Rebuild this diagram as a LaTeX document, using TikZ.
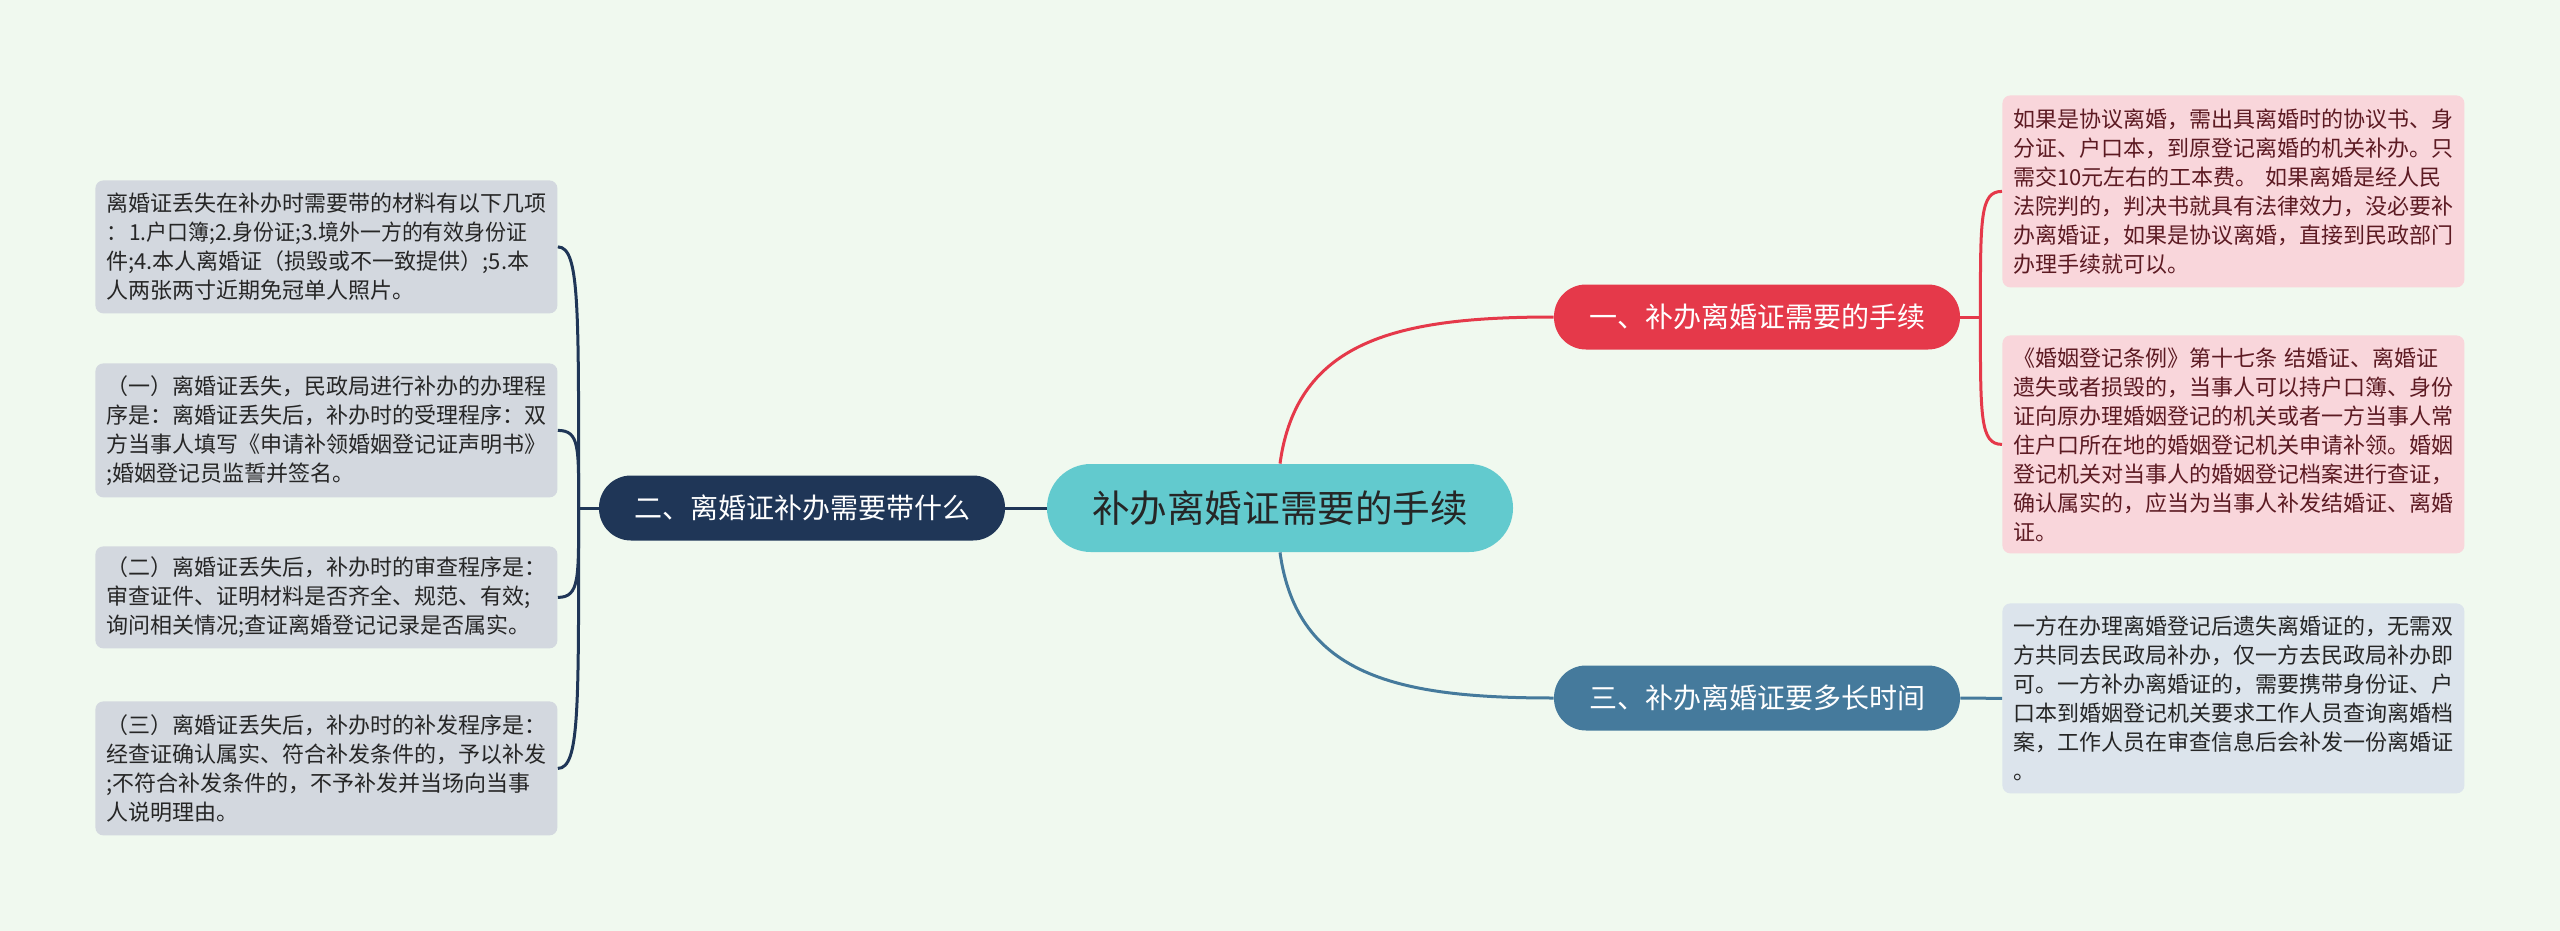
\documentclass[tikz,border=0pt]{standalone}
\usepackage{fontspec}
\setmainfont{Noto Sans CJK SC}
\usepackage{graphicx}
\usepackage{tikz}
\usetikzlibrary{calc}
\usepackage{xcolor}
\definecolor{bgmint}{HTML}{F0F9EF}
\definecolor{topicteal}{HTML}{62CACE}
\definecolor{mapnavy}{HTML}{1F3657}
\definecolor{mapred}{HTML}{E5394A}
\definecolor{mapblue}{HTML}{457A9C}
\definecolor{leafgray}{HTML}{D3D8DF}
\definecolor{leafpink}{HTML}{F9D6DB}
\definecolor{leafblue}{HTML}{DCE4EC}
\definecolor{pinktext}{HTML}{5C1A22}
\definecolor{leaftext}{HTML}{262626}

\begin{document}
\begin{tikzpicture}[
  x=0.5pt, y=-0.5pt,
  topic/.style={fill=topicteal, rounded corners=21.9pt, minimum width=233pt, minimum height=44pt, font=\fontsize{18.8}{22}\selectfont, text=leaftext},
  branch/.style={rounded corners=16pt, minimum width=203pt, minimum height=32.5pt, font=\fontsize{14}{17}\selectfont, text=white},
  leaf/.style={anchor=north west, rounded corners=4pt, text width=220pt, inner xsep=5.5pt, inner ysep=0pt, align=left, font=\fontsize{11}{14.5}\selectfont, text=leaftext},
  link/.style={line width=1.5pt}
]
\fill[bgmint] (0,0) rectangle (2560,931);
\useasboundingbox (0,0) rectangle (2560,931);

% centre and main branches
\node[topic] (main) at (1280,508) {补办离婚证需要的手续};
\node[branch, fill=mapnavy] (need) at (802,508) {二、离婚证补办需要带什么};
\node[branch, fill=mapred] (steps) at (1757,317) {一、补办离婚证需要的手续};
\node[branch, fill=mapblue] (time) at (1757,698) {三、补办离婚证要多长时间};

% left leaves
\node[leaf, fill=leafgray, minimum height=66.5pt] (need1) at (95,180) {离婚证丢失在补办时需要带的材料有以下几项\\\scalebox{0.95}[1]{：\kern1pt 1.户口簿;2.身份证;3.境外一方的有效身份证}\\件;4.本人离婚证（损毁或不一致提供）;5.本\\人两张两寸近期免冠单人照片。};
\node[leaf, fill=leafgray, minimum height=67pt] (need2) at (95,363) {（一）离婚证丢失，民政局进行补办的办理程\\序是：离婚证丢失后，补办时的受理程序：双\\方当事人填写《申请补领婚姻登记证声明书》\\;婚姻登记员监誓并签名。};
\node[leaf, fill=leafgray, minimum height=51pt] (need3) at (95,546) {（二）离婚证丢失后，补办时的审查程序是：\\审查证件、证明材料是否齐全、规范、有效;\\询问相关情况;查证离婚登记记录是否属实。};
\node[leaf, fill=leafgray, minimum height=67pt] (need4) at (95,701) {（三）离婚证丢失后，补办时的补发程序是：\\经查证确认属实、符合补发条件的，予以补发\\;不符合补发条件的，不予补发并当场向当事\\人说明理由。};

% right leaves
\node[leaf, fill=leafpink, text=pinktext, minimum height=96pt] (steps1) at (2002,95) {如果是协议离婚，需出具离婚时的协议书、身\\分证、户口本，到原登记离婚的机关补办。只\\需交10元左右的工本费。 如果离婚是经人民\\法院判的，判决书就具有法律效力，没必要补\\办离婚证，如果是协议离婚，直接到民政部门\\办理手续就可以。};
\node[leaf, fill=leafpink, text=pinktext, minimum height=109pt] (steps2) at (2002,335) {《婚姻登记条例》第十七条 结婚证、离婚证\\遗失或者损毁的，当事人可以持户口簿、身份\\证向原办理婚姻登记的机关或者一方当事人常\\住户口所在地的婚姻登记机关申请补领。婚姻\\登记机关对当事人的婚姻登记档案进行查证，\\确认属实的，应当为当事人补发结婚证、离婚\\证。};
\node[leaf, fill=leafblue, minimum height=95pt] (time1) at (2002,603) {一方在办理离婚登记后遗失离婚证的，无需双\\方共同去民政局补办，仅一方去民政局补办即\\可。一方补办离婚证的，需要携带身份证、户\\口本到婚姻登记机关要求工作人员查询离婚档\\案，工作人员在审查信息后会补发一份离婚证\\。};

% connectors
\draw[link, mapnavy] (need.east) -- (main.west);
\draw[link, mapred] (main.north) .. controls +(17,-124) and +(-155,0) .. (steps.west);
\draw[link, mapblue] (main.south) .. controls +(17,124) and +(-155,0) .. (time.west);

\coordinate (needfork) at ($(need.west)+(-20,0)$);
\draw[link, mapnavy] (need.west) -- (needfork);
\draw[link, mapnavy] (needfork) .. controls +(0,-200) and +(22,0) .. (need1.east);
\draw[link, mapnavy] (needfork) .. controls +(0,-60) and +(22,0) .. (need2.east);
\draw[link, mapnavy] (needfork) .. controls +(0,70) and +(22,0) .. (need3.east);
\draw[link, mapnavy] (needfork) .. controls +(0,200) and +(22,0) .. (need4.east);

\coordinate (stepsfork) at ($(steps.east)+(20,0)$);
\draw[link, mapred] (steps.east) -- (stepsfork);
\draw[link, mapred] (stepsfork) .. controls +(0,-100) and +(-22,0) .. (steps1.west);
\draw[link, mapred] (stepsfork) .. controls +(0,100) and +(-22,0) .. (steps2.west);

\draw[link, mapblue] (time.east) -- (time1.west);
\end{tikzpicture}
\end{document}
